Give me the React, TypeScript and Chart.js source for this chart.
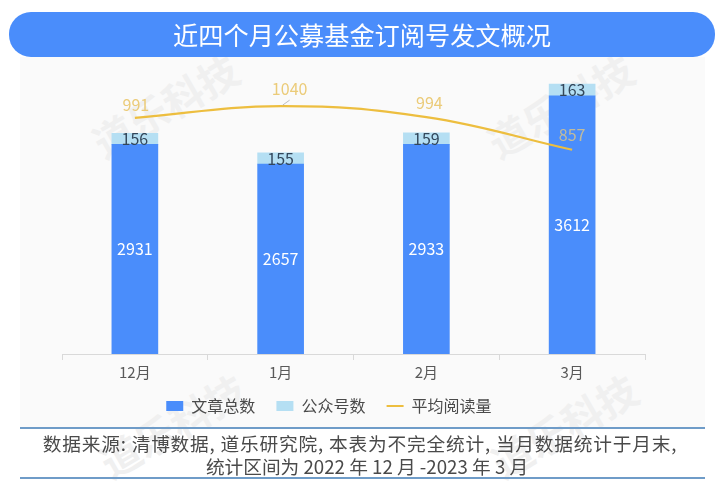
import React, { useEffect, useRef } from "react";
import { Chart, registerables } from "chart.js";

Chart.register(...registerables);

const months = ["12月", "1月", "2月", "3月"];
const articleTotals = [2931, 2657, 2933, 3612];
const accountCounts = [156, 155, 159, 163];
const avgReads = [991, 1040, 994, 857];
const seriesNames = ["文章总数", "公众号数", "平均阅读量"];
const titleText = "近四个月公募基金订阅号发文概况";
const sourceLines = [
  "数据来源: 清博数据, 道乐研究院, 本表为不完全统计, 当月数据统计于月末,",
  "统计区间为 2022 年 12 月 -2023 年 3 月",
];
const watermarkText = "道乐科技";

const FONT = '"Noto Sans CJK SC", "Noto Sans", sans-serif';
const readLabelOffsets = [[1, -13], [9, -17], [3, -14], [0, -15]];
const readLabelColors = ["#EBCB78", "#EBCB78", "#EBCB78", "rgba(240,205,120,0.72)"];
const sourceSpacing = [0.8, 0];
const sourceIndent = [0, 14];

const labelPlugin = {
  id: "valueLabels",
  afterLayout(chart: any) {
    if (chart.legend) {
      chart.legend.left -= 21;
      chart.legend.right -= 21;
    }
  },
  afterDatasetsDraw(chart: any) {
    const ctx = chart.ctx;
    ctx.save();
    ctx.textAlign = "center";
    ctx.textBaseline = "middle";
    ctx.font = `16px ${FONT}`;
    chart.getDatasetMeta(0).data.forEach((el: any, i: number) => {
      ctx.fillStyle = "#ffffff";
      ctx.fillText(String(articleTotals[i]), el.x, (el.y + el.base) / 2);
    });
    chart.getDatasetMeta(1).data.forEach((el: any, i: number) => {
      ctx.fillStyle = "#33475B";
      ctx.fillText(String(accountCounts[i]), el.x, (el.y + el.base) / 2);
    });
    chart.getDatasetMeta(2).data.forEach((el: any, i: number) => {
      const [dx, dy] = readLabelOffsets[i];
      ctx.fillStyle = readLabelColors[i];
      ctx.fillText(String(avgReads[i]), el.x + dx, el.y + dy);
      if (i === 1) {
        ctx.strokeStyle = "#BDBDBD";
        ctx.lineWidth = 1;
        ctx.beginPath();
        ctx.moveTo(el.x + 2, el.y - 1);
        ctx.lineTo(el.x + 9, el.y - 6);
        ctx.stroke();
      }
    });
    ctx.restore();
  },
};

const watermarks = [
  { left: 85, top: 82 },
  { left: 480, top: 82 },
  { left: 92, top: 402 },
  { left: 484, top: 402 },
];

export default function App() {
  const ref = useRef<HTMLCanvasElement>(null);

  useEffect(() => {
    const chart = new Chart(ref.current as HTMLCanvasElement, {
      type: "bar",
      plugins: [labelPlugin],
      data: {
        labels: months,
        datasets: [
          {
            label: seriesNames[0],
            data: articleTotals,
            backgroundColor: "#4A8DFB",
            stack: "s",
            yAxisID: "y",
            barThickness: 46,
            order: 2,
          },
          {
            label: seriesNames[1],
            data: accountCounts,
            backgroundColor: "#B5DFF3",
            stack: "s",
            yAxisID: "y",
            barThickness: 46,
            order: 2,
          },
          {
            type: "line",
            label: seriesNames[2],
            data: avgReads,
            borderColor: "#EDBE3F",
            backgroundColor: "#EDBE3F",
            borderWidth: 2.2,
            tension: 0.4,
            pointRadius: 0,
            yAxisID: "y2",
            order: 1,
          },
        ] as any,
      },
      options: {
        responsive: false,
        animation: false,
        layout: { padding: { left: 62, right: 75, top: 68, bottom: 65 } },
        plugins: {
          title: { display: false },
          tooltip: { enabled: false },
          legend: {
            display: true,
            position: "bottom",
            labels: {
              usePointStyle: true,
              pointStyleWidth: 17,
              boxHeight: 10,
              padding: 14,
              color: "#4A4A4A",
              font: { family: FONT, size: 16 },
              generateLabels(c: any) {
                return c.data.datasets.map((d: any, i: number) => ({
                  text: d.label + "  ",
                  fillStyle: d.backgroundColor,
                  strokeStyle: d.backgroundColor,
                  lineWidth: i === 2 ? 2 : 0,
                  pointStyle: i === 2 ? "line" : "rect",
                  datasetIndex: i,
                  fontColor: "#4A4A4A",
                }));
              },
            },
          },
        },
        scales: {
          x: {
            stacked: true,
            border: { color: "#D9D9D9" },
            grid: {
              drawOnChartArea: false,
              drawTicks: true,
              tickLength: 6,
              color: "#D9D9D9",
            },
            ticks: {
              color: "#595959",
              font: { family: FONT, size: 15 },
              padding: 3,
            },
          },
          y: { stacked: true, display: false, min: 0, max: 4000 },
          y2: { display: false, min: 0, max: 1200 },
        },
      } as any,
    });
    return () => chart.destroy();
  }, []);

  return (
    <div style={{ position: "absolute", left: 0, top: 0, width: 720, height: 489, background: "#fff", overflow: "hidden", fontFamily: FONT }}>
      <div style={{ position: "absolute", left: 20, top: 57, width: 685, height: 370, background: "#FAFAFA" }} />
      {watermarks.map((w, i) => (
        <div
          key={i}
          style={{
            position: "absolute",
            left: w.left,
            top: w.top,
            fontSize: 40,
            fontWeight: 700,
            lineHeight: "46px",
            whiteSpace: "nowrap",
            color: "#F0F0F0",
            transform: "rotate(-30deg)",
            transformOrigin: "center",
          }}
        >
          {watermarkText}
        </div>
      ))}
      <canvas ref={ref} width={720} height={489} style={{ position: "absolute", left: 0, top: 0, width: 720, height: 489 }} />
      <div
        style={{
          position: "absolute",
          left: 9,
          top: 12,
          width: 706,
          height: 45,
          borderRadius: 22,
          background: "#4A8DFB",
          color: "#fff",
          fontSize: 25.2,
          lineHeight: "45px",
          textAlign: "center",
        }}
      >
        {titleText}
      </div>
      <div style={{ position: "absolute", left: 20, top: 427, width: 685, height: 2, background: "#6F9CC8" }} />
      <div style={{ position: "absolute", left: 0, top: 431, width: 720, textAlign: "center", fontSize: 18.7, lineHeight: "23px", color: "#4A4A4A" }}>
        {sourceLines.map((s, i) => (
          <div key={s} style={{ letterSpacing: sourceSpacing[i], paddingLeft: sourceIndent[i] }}>{s}</div>
        ))}
      </div>
      <div style={{ position: "absolute", left: 20, top: 477, width: 685, height: 2, background: "#6F9CC8" }} />
    </div>
  );
}
